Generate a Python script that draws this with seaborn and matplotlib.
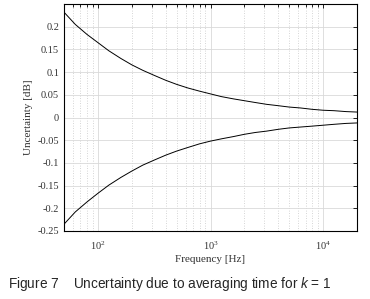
import matplotlib
matplotlib.use("Agg")
import matplotlib.pyplot as plt
import numpy as np
import pandas as pd
import seaborn as sns

freq_hz = [50, 63, 80, 100, 125, 160, 200, 250, 315, 400, 500, 630, 800, 1000, 1250,
           1600, 2000, 2500, 3150, 4000, 5000, 6300, 8000, 10000, 12500, 16000, 20000]
upper_db = [0.232, 0.205, 0.183, 0.165, 0.147, 0.130, 0.116, 0.104, 0.093, 0.082, 0.073,
            0.065, 0.058, 0.052, 0.046, 0.041, 0.037, 0.033, 0.029, 0.026, 0.023, 0.021,
            0.018, 0.016, 0.015, 0.013, 0.012]
lower_db = [-0.235, -0.208, -0.186, -0.167, -0.149, -0.132, -0.118, -0.105, -0.094, -0.083,
            -0.074, -0.066, -0.058, -0.052, -0.047, -0.042, -0.037, -0.033, -0.030, -0.026,
            -0.023, -0.021, -0.019, -0.017, -0.015, -0.013, -0.012]
y_ticks = [-0.25, -0.2, -0.15, -0.1, -0.05, 0, 0.05, 0.1, 0.15, 0.2, 0.25]
y_tick_labels = ["-0.25", "-0.2", "-0.15", "-0.1", "-0.05", "0", "0.05", "0.1", "0.15", "0.2", ""]

sns.set_style("white")
plt.rcParams["font.family"] = ["Liberation Serif", "DejaVu Serif"]
plt.rcParams["mathtext.fontset"] = "custom"
plt.rcParams["mathtext.rm"] = "Liberation Sans"
plt.rcParams["mathtext.it"] = "Liberation Sans:italic"

df = pd.DataFrame({
    "freq": freq_hz * 2,
    "value": upper_db + lower_db,
    "curve": ["upper"] * len(freq_hz) + ["lower"] * len(freq_hz),
})

fig = plt.figure(figsize=(3.7, 2.99), dpi=100)
ax = fig.add_axes([64 / 370, 1 - 231 / 299, 293 / 370, 227 / 299])

sns.lineplot(data=df, x="freq", y="value", units="curve", estimator=None,
             color="black", linewidth=0.7, ax=ax)

ax.set_xscale("log")
ax.set_xlim(50, 20000)
ax.set_ylim(-0.25, 0.25)
ax.set_yticks(y_ticks)
ax.set_yticklabels(y_tick_labels)
ax.grid(True, which="major", color="#d9d9d9", linewidth=0.6, linestyle="-")
ax.grid(True, which="minor", axis="x", color="#c8c8c8", linewidth=0.6, linestyle=(0, (1, 2)))
ax.tick_params(which="both", direction="in", top=True, right=True, labelsize=7.5,
               length=3, width=0.6, color="black", labelcolor="#333333")
ax.tick_params(which="minor", length=2)
ax.tick_params(axis="x", pad=6)
for spine in ax.spines.values():
    spine.set_color("black")
    spine.set_linewidth(0.8)

ax.set_xlabel("Frequency [Hz]", fontsize=8, labelpad=2, color="#333333")
ax.set_ylabel("Uncertainty [dB]", fontsize=8, labelpad=3, color="#333333")

fig.text(8 / 370, 1 - 288 / 299,
         "Figure 7    Uncertainty due to averaging time for $k$ = 1",
         fontsize=9.8, family="Liberation Sans")

fig.savefig("out.png", dpi=100)
